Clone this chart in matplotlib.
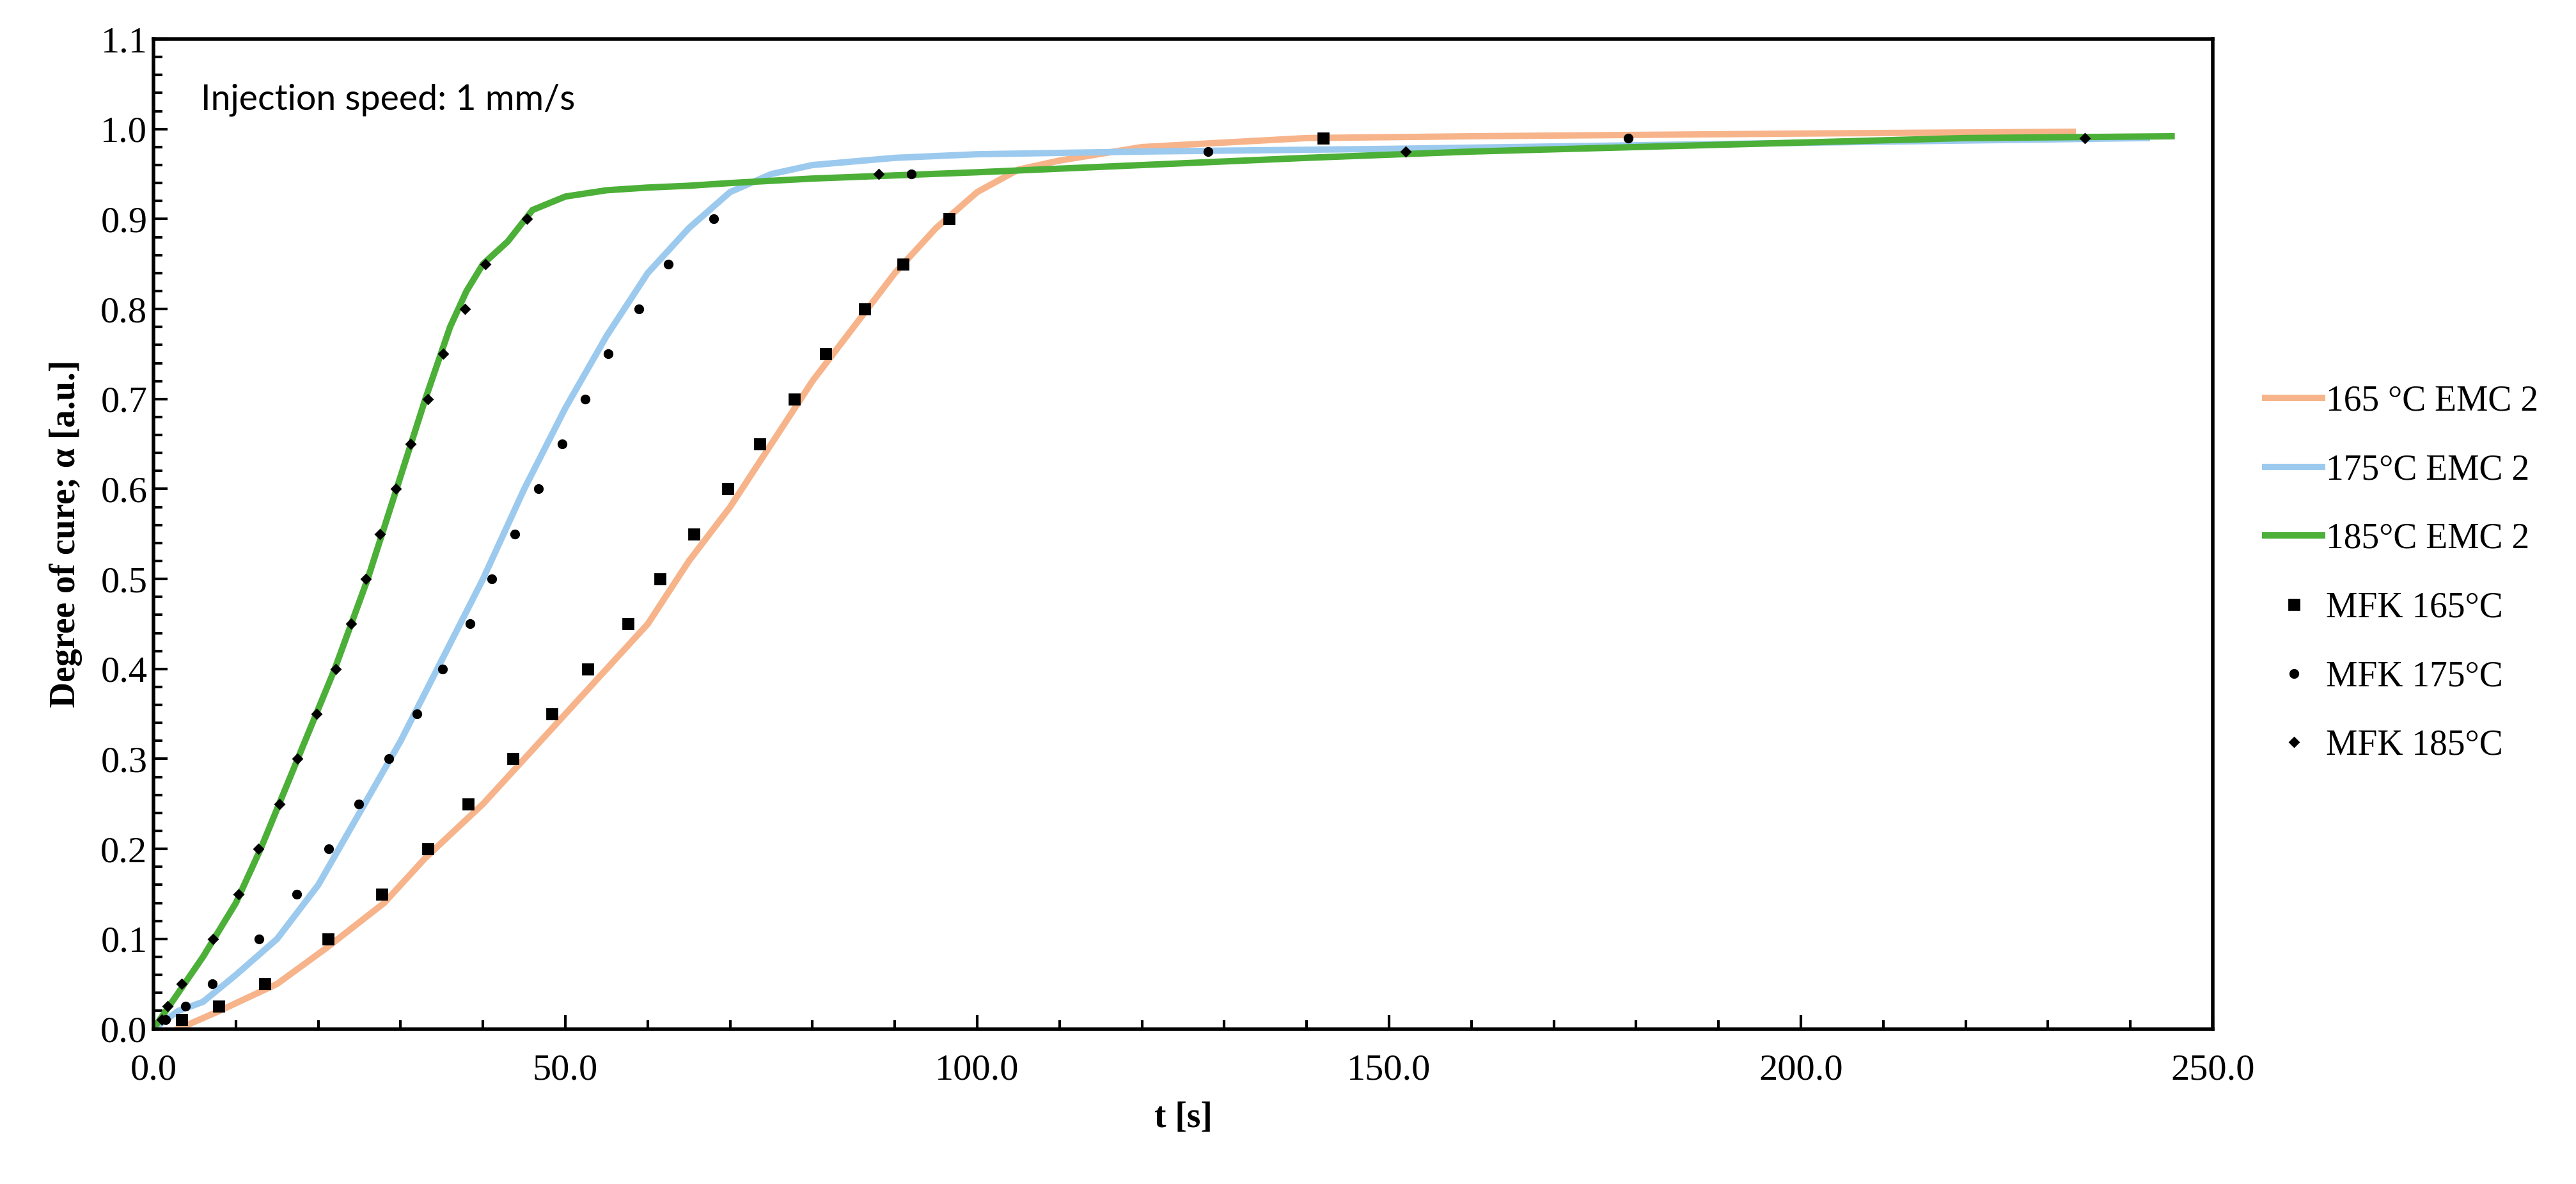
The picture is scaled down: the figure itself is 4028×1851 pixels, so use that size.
import matplotlib
matplotlib.use("Agg")
import matplotlib.pyplot as plt
from matplotlib.ticker import MultipleLocator, FormatStrFormatter

# model curves (EMC 2)
t165 = [3, 8, 15, 21, 28, 33, 40, 45, 50, 55, 60, 65, 70, 75, 80, 85, 90, 95, 100, 105, 110, 120, 130, 140, 160, 200, 233]
a165 = [0, 0.02, 0.05, 0.09, 0.14, 0.19, 0.25, 0.3, 0.35, 0.4, 0.45, 0.52, 0.58, 0.65, 0.72, 0.78, 0.84, 0.89, 0.93, 0.955, 0.965, 0.98, 0.985, 0.99, 0.992, 0.995, 0.997]
t175 = [0, 3, 6, 10, 15, 20, 25, 30, 35, 40, 45, 50, 55, 60, 65, 70, 75, 80, 90, 100, 120, 150, 180, 210, 242]
a175 = [0, 0.02, 0.03, 0.06, 0.1, 0.16, 0.24, 0.32, 0.41, 0.5, 0.6, 0.69, 0.77, 0.84, 0.89, 0.93, 0.95, 0.96, 0.968, 0.972, 0.975, 0.978, 0.982, 0.986, 0.99]
t185 = [0, 3, 6, 10, 13, 17.5, 22, 26, 29.5, 33, 36, 38, 40, 43, 46, 50, 55, 60, 65, 70, 80, 100, 120, 140, 160, 180, 200, 220, 245]
a185 = [0, 0.04, 0.08, 0.14, 0.2, 0.3, 0.4, 0.5, 0.6, 0.7, 0.78, 0.82, 0.85, 0.875, 0.91, 0.925, 0.932, 0.935, 0.937, 0.94, 0.945, 0.952, 0.96, 0.968, 0.975, 0.98, 0.985, 0.99, 0.992]

# MFK simulation points
levels = [0.01, 0.025, 0.05, 0.1, 0.15, 0.2, 0.25, 0.3, 0.35, 0.4, 0.45, 0.5, 0.55, 0.6,
          0.65, 0.7, 0.75, 0.8, 0.85, 0.9]
m165_t = [3.4, 7.9, 13.5, 21.2, 27.7, 33.3, 38.2, 43.6, 48.4, 52.7, 57.6, 61.5, 65.6, 69.7,
          73.6, 77.8, 81.6, 86.3, 91.0, 96.6, 142]
m165_a = levels + [0.99]
m175_t = [1.5, 3.9, 7.1, 12.8, 17.4, 21.3, 24.9, 28.6, 32.0, 35.1, 38.4, 41.1, 43.9, 46.7,
          49.6, 52.4, 55.2, 58.9, 62.5, 68.0, 92, 128, 179]
m175_a = levels + [0.95, 0.975, 0.99]
m185_t = [1.0, 1.7, 3.4, 7.2, 10.3, 12.7, 15.3, 17.5, 19.8, 22.1, 24.0, 25.8, 27.5, 29.4,
          31.2, 33.3, 35.2, 37.8, 40.3, 45.3, 88, 152, 234.5]
m185_a = levels + [0.95, 0.975, 0.99]

plt.rcParams["font.family"] = ["Liberation Serif", "DejaVu Serif"]

fig = plt.figure(figsize=(20.14, 9.255), dpi=200)
ax = fig.add_axes([0.0596, 0.131, 0.7994, 0.836])

ax.plot(t165, a165, color="#F7B48A", lw=3.6, label="165 °C EMC 2")
ax.plot(t175, a175, color="#9CCAEE", lw=3.6, label="175°C EMC 2")
ax.plot(t185, a185, color="#4CAF38", lw=3.6, label="185°C EMC 2")
ax.plot(m165_t, m165_a, "s", color="black", ms=5.5, ls="none", label="MFK 165°C")
ax.plot(m175_t, m175_a, "o", color="black", ms=4.5, ls="none", label="MFK 175°C")
ax.plot(m185_t, m185_a, "D", color="black", ms=3.8, ls="none", label="MFK 185°C")

ax.set_xlim(0, 250)
ax.set_ylim(0, 1.1)
ax.xaxis.set_major_locator(MultipleLocator(50))
ax.xaxis.set_minor_locator(MultipleLocator(10))
ax.yaxis.set_major_locator(MultipleLocator(0.1))
ax.yaxis.set_minor_locator(MultipleLocator(0.02))
ax.xaxis.set_major_formatter(FormatStrFormatter("%.1f"))
ax.yaxis.set_major_formatter(FormatStrFormatter("%.1f"))
ax.tick_params(which="both", direction="in", labelsize=21, width=1.5)
ax.tick_params(which="major", length=8)
ax.tick_params(which="minor", length=5)
ax.tick_params(axis="x", pad=14)
for s in ax.spines.values():
    s.set_linewidth(2)

ax.set_xlabel("t [s]", fontsize=20, fontweight="bold", labelpad=8)
ax.set_ylabel("Degree of cure; α [a.u.]", fontsize=20, fontweight="bold", labelpad=10)
ax.text(0.023, 0.955, "Injection speed: 1 mm/s", transform=ax.transAxes, fontsize=20,
        family=["Lato", "DejaVu Sans"], va="top")

ax.legend(loc="center left", bbox_to_anchor=(1.01, 0.46), frameon=False, fontsize=20,
          handlelength=1.6, handletextpad=0.1, labelspacing=1.0)

fig.savefig("out.png", dpi=200)
